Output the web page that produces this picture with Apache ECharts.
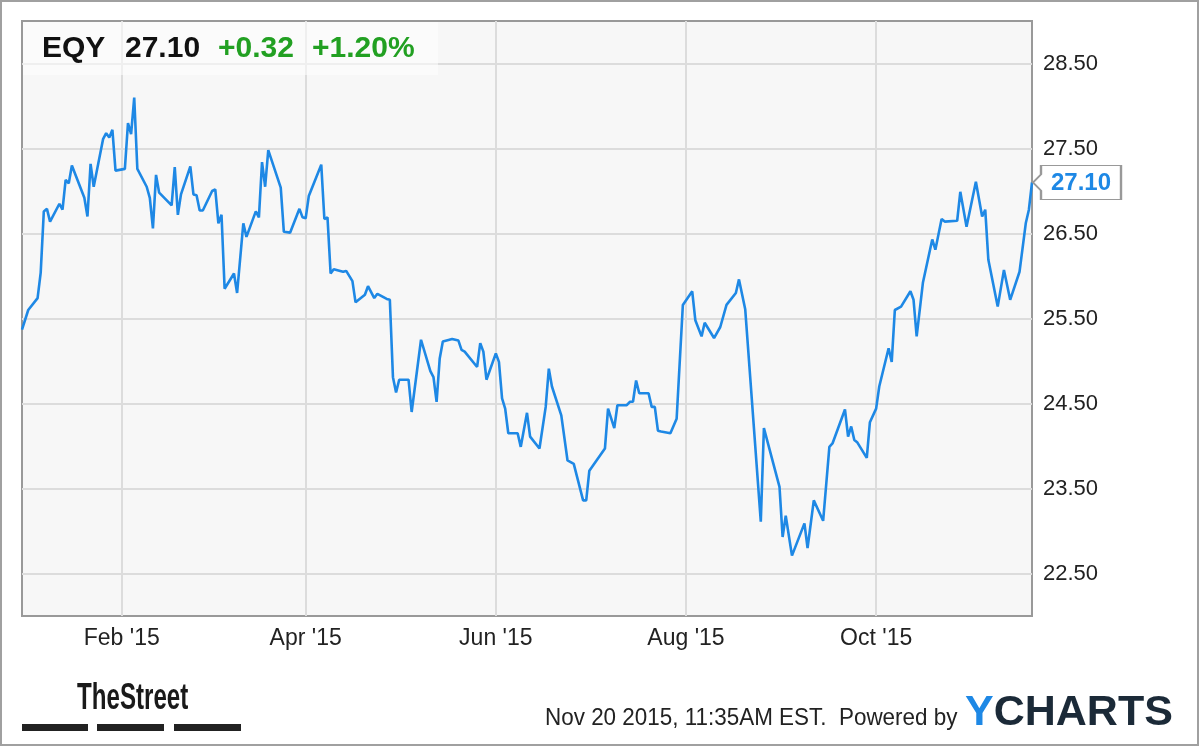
<!DOCTYPE html>
<html><head><meta charset="utf-8">
<script src="https://cdn.jsdelivr.net/npm/echarts@6/dist/echarts.min.js"></script>
<style>html,body{margin:0;padding:0;background:#fff}#c{width:1200px;height:747px}</style>
</head><body><div id="c"></div>
<script>
const dates = ['2014-12-31','2015-01-02','2015-01-05','2015-01-06','2015-01-07','2015-01-08','2015-01-09','2015-01-12','2015-01-13','2015-01-14','2015-01-15','2015-01-16','2015-01-20','2015-01-21','2015-01-22','2015-01-23','2015-01-26','2015-01-27','2015-01-28','2015-01-29','2015-01-30','2015-02-02','2015-02-03','2015-02-04','2015-02-05','2015-02-06','2015-02-09','2015-02-10','2015-02-11','2015-02-12','2015-02-13','2015-02-17','2015-02-18','2015-02-19','2015-02-20','2015-02-23','2015-02-24','2015-02-25','2015-02-26','2015-02-27','2015-03-02','2015-03-03','2015-03-04','2015-03-05','2015-03-06','2015-03-09','2015-03-10','2015-03-12','2015-03-13','2015-03-16','2015-03-17','2015-03-18','2015-03-19','2015-03-20','2015-03-24','2015-03-25','2015-03-27','2015-03-30','2015-03-31','2015-04-01','2015-04-02','2015-04-06','2015-04-07','2015-04-08','2015-04-09','2015-04-10','2015-04-13','2015-04-14','2015-04-16','2015-04-17','2015-04-20','2015-04-21','2015-04-23','2015-04-24','2015-04-27','2015-04-28','2015-04-29','2015-04-30','2015-05-01','2015-05-04','2015-05-05','2015-05-08','2015-05-11','2015-05-12','2015-05-13','2015-05-14','2015-05-15','2015-05-18','2015-05-20','2015-05-21','2015-05-22','2015-05-26','2015-05-27','2015-05-28','2015-05-29','2015-06-01','2015-06-02','2015-06-03','2015-06-04','2015-06-05','2015-06-08','2015-06-09','2015-06-11','2015-06-12','2015-06-15','2015-06-17','2015-06-18','2015-06-19','2015-06-22','2015-06-24','2015-06-26','2015-06-29','2015-06-30','2015-07-01','2015-07-06','2015-07-07','2015-07-09','2015-07-10','2015-07-13','2015-07-14','2015-07-15','2015-07-16','2015-07-17','2015-07-20','2015-07-21','2015-07-22','2015-07-23','2015-07-24','2015-07-27','2015-07-29','2015-07-31','2015-08-03','2015-08-04','2015-08-06','2015-08-07','2015-08-10','2015-08-12','2015-08-14','2015-08-17','2015-08-18','2015-08-20','2015-08-25','2015-08-26','2015-08-31','2015-09-01','2015-09-02','2015-09-04','2015-09-08','2015-09-09','2015-09-11','2015-09-14','2015-09-16','2015-09-17','2015-09-21','2015-09-22','2015-09-23','2015-09-24','2015-09-25','2015-09-28','2015-09-29','2015-10-01','2015-10-02','2015-10-05','2015-10-06','2015-10-07','2015-10-09','2015-10-12','2015-10-13','2015-10-14','2015-10-16','2015-10-19','2015-10-20','2015-10-22','2015-10-23','2015-10-27','2015-10-28','2015-10-30','2015-11-02','2015-11-04','2015-11-05','2015-11-06','2015-11-09','2015-11-11','2015-11-13','2015-11-16','2015-11-18','2015-11-19','2015-11-20'];
const prices = [25.37,25.60,25.74,26.04,26.76,26.79,26.64,26.85,26.78,27.13,27.09,27.30,26.92,26.70,27.32,27.05,27.61,27.68,27.63,27.72,27.24,27.26,27.80,27.67,28.10,27.26,27.05,26.92,26.56,27.19,26.98,26.83,27.28,26.72,26.96,27.29,26.96,26.95,26.77,26.77,27.00,27.02,26.62,26.72,25.85,26.03,25.80,26.62,26.46,26.76,26.69,27.34,27.05,27.48,27.04,26.52,26.51,26.79,26.69,26.68,26.94,27.31,26.67,26.69,26.03,26.08,26.05,26.06,25.94,25.69,25.78,25.88,25.74,25.79,25.73,25.72,24.81,24.63,24.78,24.78,24.40,25.25,24.88,24.81,24.52,25.03,25.23,25.26,25.24,25.13,25.11,24.93,25.21,25.11,24.78,25.09,24.99,24.56,24.44,24.15,24.15,23.99,24.39,24.11,23.97,24.46,24.91,24.70,24.36,23.83,23.79,23.36,23.36,23.71,23.97,24.44,24.21,24.48,24.48,24.52,24.52,24.77,24.62,24.62,24.46,24.46,24.18,24.17,24.15,24.32,25.66,25.82,25.48,25.29,25.45,25.27,25.40,25.66,25.80,25.96,25.61,23.11,24.21,23.52,22.93,23.18,22.71,23.09,22.80,23.36,23.12,23.99,24.03,24.43,24.11,24.23,24.07,24.04,23.86,24.28,24.44,24.70,25.15,24.99,25.60,25.64,25.82,25.72,25.29,25.92,26.43,26.31,26.67,26.64,26.65,26.99,26.58,27.11,26.70,26.78,26.19,25.64,26.07,25.72,26.05,26.62,26.78,27.10];
const yTicks = [22.5,23.5,24.5,25.5,26.5,27.5,28.5];
const xTicks = ['2015-02-01','2015-04-01','2015-06-01','2015-08-01','2015-10-01'];
const monthNames = ['Jan','Feb','Mar','Apr','May','Jun','Jul','Aug','Sep','Oct','Nov','Dec'];
const ticker = 'EQY', lastPrice = '27.10', change = '+0.32', changePct = '+1.20%';
const footerText = 'Nov 20 2015, 11:35AM EST.  Powered by';

const FONT = "'Liberation Sans', Arial, sans-serif";
const toTs = s => { const p = s.split('-').map(Number); return Date.UTC(p[0], p[1] - 1, p[2]); };
const seriesData = dates.map((d, i) => [toTs(d), prices[i]]);
const xTickVals = xTicks.map(toTs);
const lastIdx = dates.length - 1;

const chart = echarts.init(document.getElementById('c'), null, {renderer: 'canvas'});
chart.setOption({
  animation: false,
  grid: {left: 22, right: 168, top: 21, bottom: 131, show: true, backgroundColor: '#f7f7f7', borderColor: '#999', borderWidth: 2},
  xAxis: {
    type: 'value', min: toTs(dates[0]), max: toTs(dates[lastIdx]),
    axisLine: {show: false}, axisTick: {show: false, customValues: xTickVals},
    axisLabel: {customValues: xTickVals, color: '#222', fontSize: 23, fontFamily: FONT, margin: 11,
      formatter: v => { const d = new Date(v); return monthNames[d.getUTCMonth()] + " '" + String(d.getUTCFullYear()).slice(2); }},
    splitLine: {show: true, lineStyle: {color: '#dcdcdc', width: 2}}
  },
  yAxis: {
    type: 'value', position: 'right', min: 22, max: 29,
    axisLine: {show: false}, axisTick: {show: false, customValues: yTicks},
    axisLabel: {customValues: yTicks, color: '#222', fontSize: 22, fontFamily: FONT, margin: 11, formatter: v => v.toFixed(2)},
    splitLine: {show: true, lineStyle: {color: '#dcdcdc', width: 2}}
  },
  series: [{
    type: 'line', data: seriesData, showSymbol: false, symbol: 'none',
    lineStyle: {color: '#1e88e5', width: 2.6}, z: 3,
    markPoint: {
      silent: true,
      data: [{coord: seriesData[lastIdx]}],
      symbol: 'path://M0,17 L8,9 L8,0 L88,0 L88,34 L8,34 L8,25 Z',
      symbolSize: [88, 34], symbolKeepAspect: false, symbolOffset: [45, 0],
      itemStyle: {color: '#fff', borderColor: '#999', borderWidth: 1.5},
      label: {show: true, position: 'inside', offset: [4, 1], formatter: () => lastPrice,
        color: '#1e88e5', fontWeight: 'bold', fontSize: 24, fontFamily: FONT}
    }
  }],
  graphic: [
    {type: 'rect', z: 100, shape: {x: 1, y: 1, width: 1197, height: 744}, style: {fill: 'none', stroke: '#a0a0a0', lineWidth: 2}},
    {type: 'rect', z: 10, shape: {x: 23, y: 22, width: 415, height: 53}, style: {fill: 'rgba(255,255,255,0.55)'}},
    {type: 'text', z: 11, x: 42, y: 49, style: {text: ticker, fill: '#111', font: 'bold 30px ' + FONT, textVerticalAlign: 'middle'}},
    {type: 'text', z: 11, x: 125, y: 49, style: {text: lastPrice, fill: '#111', font: 'bold 30px ' + FONT, textVerticalAlign: 'middle'}},
    {type: 'text', z: 11, x: 218, y: 49, style: {text: change, fill: '#22a022', font: 'bold 30px ' + FONT, textVerticalAlign: 'middle'}},
    {type: 'text', z: 11, x: 312, y: 49, style: {text: changePct, fill: '#22a022', font: 'bold 30px ' + FONT, textVerticalAlign: 'middle'}},
    {type: 'text', z: 11, x: 77, y: 699, scaleX: 0.67, style: {text: 'TheStreet', fill: '#1a1a1a', font: 'bold 36px ' + FONT, textVerticalAlign: 'middle'}},
    {type: 'rect', z: 11, shape: {x: 22, y: 724, width: 66, height: 7}, style: {fill: '#222'}},
    {type: 'rect', z: 11, shape: {x: 97, y: 724, width: 67, height: 7}, style: {fill: '#222'}},
    {type: 'rect', z: 11, shape: {x: 174, y: 724, width: 67, height: 7}, style: {fill: '#222'}},
    {type: 'text', z: 11, x: 545, y: 718, scaleX: 0.935, style: {text: footerText, fill: '#222', font: '24px ' + FONT, textVerticalAlign: 'middle'}},
    {type: 'text', z: 11, x: 965, y: 713, style: {text: '{y|Y}{c|CHARTS}', font: 'bold 43px ' + FONT, textVerticalAlign: 'middle',
      rich: {y: {fill: '#1e88e5', font: 'bold 43px ' + FONT}, c: {fill: '#1b2a38', font: 'bold 43px ' + FONT}}}}
  ]
});
</script></body></html>
